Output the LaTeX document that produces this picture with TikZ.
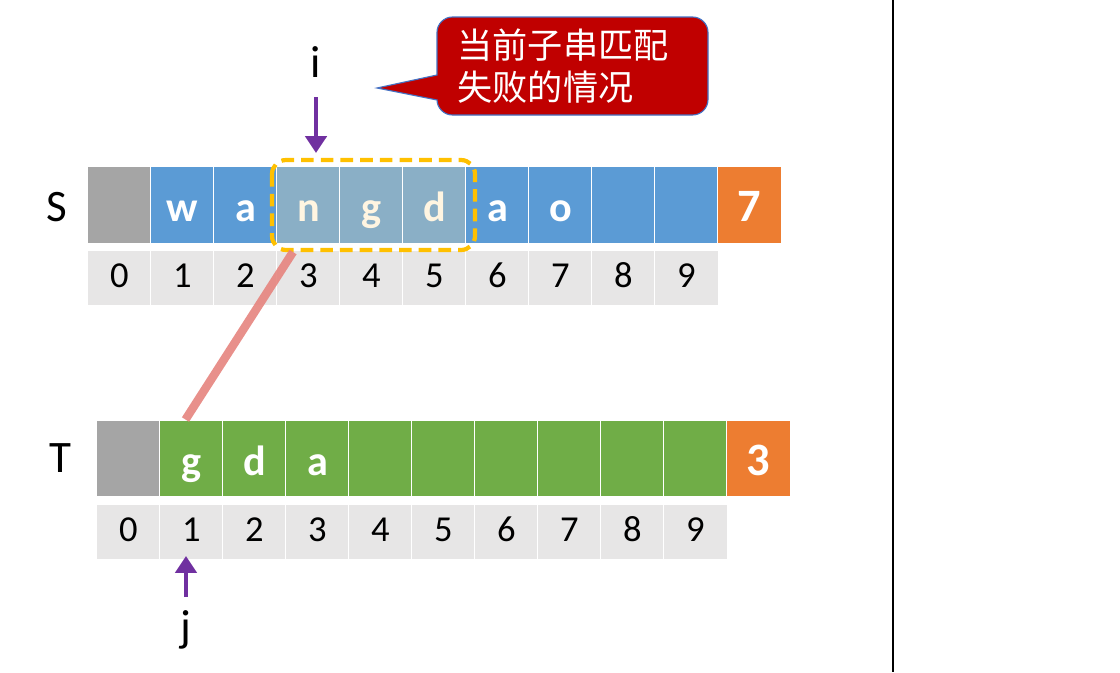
\documentclass[tikz,border=0pt]{standalone}
\usepackage{fontspec}
\setmainfont{Carlito}
\newfontfamily\cjkfont{Noto Sans CJK SC}
\usetikzlibrary{arrows.meta}

\definecolor{cellblue}{HTML}{5B9BD5}
\definecolor{cellgray}{HTML}{A5A5A5}
\definecolor{cellgreen}{HTML}{70AD47}
\definecolor{cellorange}{HTML}{ED7D31}
\definecolor{idxgray}{HTML}{E7E6E6}
\definecolor{hlblue}{HTML}{8AAFC6}
\definecolor{hltext}{HTML}{FFF5E1}
\definecolor{memored}{HTML}{C00000}
\definecolor{memoline}{HTML}{4472C4}
\definecolor{ptrpurple}{HTML}{7030A0}
\definecolor{boxyellow}{HTML}{FFC000}
\definecolor{linkred}{HTML}{E6847E}

\tikzstyle{cell} = [rectangle, draw=white, line width=0.8pt, minimum width=1.58cm,
    minimum height=1.92cm, text=white, font=\fontsize{30}{34}\selectfont\bfseries,
    text height=28pt, text depth=4pt]
\tikzstyle{bcell} = [cell, fill=cellblue]
\tikzstyle{gcell} = [cell, fill=cellgray]
\tikzstyle{tcell} = [cell, fill=cellgreen]
\tikzstyle{hcell} = [cell, fill=hlblue, text=hltext]
\tikzstyle{lencell} = [cell, fill=cellorange, font=\fontsize{33}{36}\selectfont\bfseries]
\tikzstyle{idx} = [rectangle, draw=white, line width=0.8pt, fill=idxgray,
    minimum width=1.58cm, minimum height=1.4cm,
    font=\fontsize{26}{30}\selectfont, text height=18pt, text depth=4pt]
\tikzstyle{rowname} = [font=\fontsize{32}{36}\selectfont]
\tikzstyle{ptr} = [draw=ptrpurple, line width=3pt, -{Triangle[width=15pt,length=12pt]}]

\begin{document}
\begin{tikzpicture}[x=0.025cm, y=-0.025cm]
    \useasboundingbox (0,0) rectangle (1120,672);

    % main string S
    \foreach \k/\ch/\sty in {0//gcell,1/w/bcell,2/a/bcell,3/n/hcell,4/g/hcell,
                             5/d/hcell,6/a/bcell,7/o/bcell,8//bcell,9//bcell,10/7/lencell}
        \node[\sty] (S\k) at (119.5+63*\k,205) {\ch};
    \foreach \k in {0,...,9}
        \node[idx] (Si\k) at (119.5+63*\k,278) {\k};
    \node[rowname] (Sname) at (57,207) {S};

    % pattern T
    \foreach \k/\ch/\sty in {0//gcell,1/g/tcell,2/d/tcell,3/a/tcell,4//tcell,5//tcell,
                             6//tcell,7//tcell,8//tcell,9//tcell,10/3/lencell}
        \node[\sty] (T\k) at (128.5+63*\k,458.5) {\ch};
    \foreach \k in {0,...,9}
        \node[idx] (Ti\k) at (128.5+63*\k,532) {\k};
    \node[rowname] (Tname) at (60,458) {T};

    % window of S being compared
    \draw[boxyellow, line width=3pt, dash pattern=on 9pt off 5pt, rounded corners=10pt]
        (272,160) rectangle (475,250);
    \coordinate (linktop) at (293,252);
    \draw[linkred, line width=6pt, opacity=0.9] (linktop) -- ([xshift=-0.15cm]T1.north);

    % pointers i and j
    \node[rowname] (ilabel) at (316,62) {i};
    \coordinate (itail) at (316,97);
    \coordinate (ihead) at (316,153);
    \path[ptr] (itail) -- (ihead);
    \node[rowname] (jlabel) at (186,630) {j};
    \coordinate (jtail) at (186,597);
    \coordinate (jhead) at (186,556);
    \path[ptr] (jtail) -- (jhead);

    % memo
    \draw[fill=memored, draw=memoline, line width=0.8pt]
        (437,75) [rounded corners=11pt] -- (437,17) -- (708,17) -- (708,115)
        -- (437,115) [sharp corners] -- (437,100) -- (377,88) -- cycle;
    \node[text=white, align=left, font=\cjkfont\fontsize{25}{30}\selectfont]
        (memo) at (563,66) {当前子串匹配\\失败的情况};

    % divider
    \draw[line width=1.5pt] (893,0) -- (893,672);
\end{tikzpicture}
\end{document}
